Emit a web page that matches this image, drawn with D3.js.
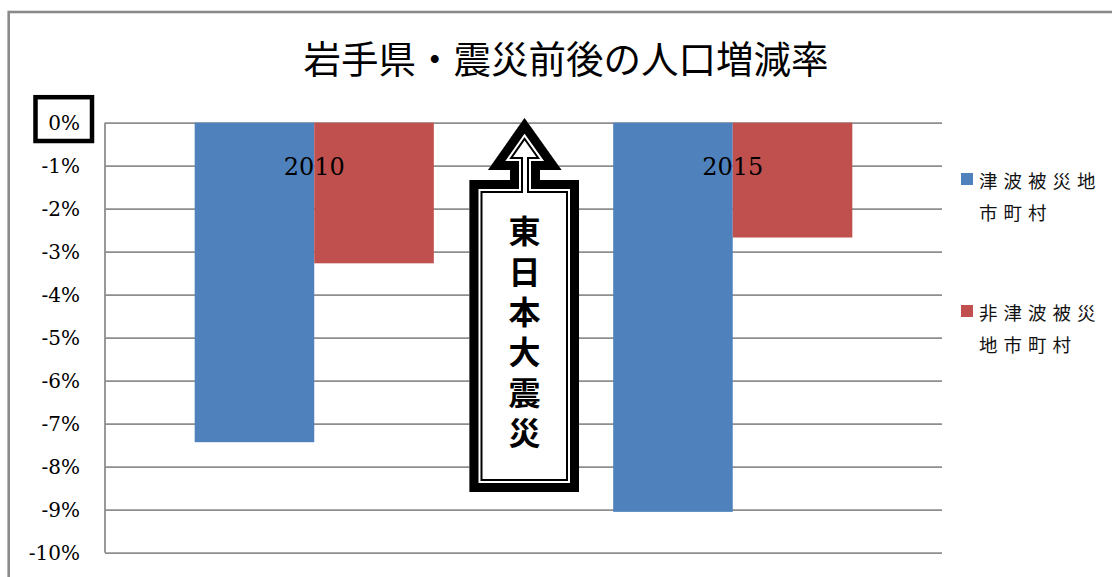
<!DOCTYPE html>
<html>
<head>
<meta charset="utf-8">
<script src="https://cdn.jsdelivr.net/npm/d3@7"></script>
<style>
  body { margin: 0; background: #fff; }
  svg { display: block; }
</style>
</head>
<body>
<div id="chart"></div>
<script>
// 岩手県・震災前後の人口増減率

var years = ["2010", "2015"];
var seriesNames = ["津波被災地市町村", "非津波被災地市町村"];
var legendLines = [["津波被災地", "市町村"], ["非津波被災", "地市町村"]];
var tsunami = [-7.43, -9.05];      // 津波被災地市町村 (%)
var nonTsunami = [-3.27, -2.67];   // 非津波被災地市町村 (%)
var yTicks = [0, -1, -2, -3, -4, -5, -6, -7, -8, -9, -10];
var colors = ["#4f81bd", "#c0504d"];
var quakeText = "東日本大震災";

var W = 1112, H = 577;
var pLeft = 105, pRight = 942, pTop = 122.7, pBottom = 552.7;

var svg = d3.select("#chart").append("svg").attr("width", W).attr("height", H);
svg.append("rect").attr("width", W).attr("height", H).attr("fill", "white");

// outer chart frame (runs off the picture at right and bottom)
svg.append("rect").attr("x", 8.7).attr("y", 12).attr("width", 1300).attr("height", 800)
  .attr("fill", "none").attr("stroke", "#8a8a8a").attr("stroke-width", 2.6);

svg.append("text").attr("x", 566).attr("y", 56).attr("text-anchor", "middle")
  .attr("dominant-baseline", "central")
  .style("font-family", "'Noto Sans CJK JP'").style("font-size", "37.5px").style("fill", "#000")
  .text("岩手県・震災前後の人口増減率");

var y = d3.scaleLinear().domain([-10, 0]).range([pBottom, pTop]);
var x0 = d3.scaleBand().domain(years).range([pLeft, pRight]).paddingInner(1.5 / 3.5).paddingOuter(0.75 / 3.5);
var x1 = d3.scaleBand().domain([0, 1]).range([0, x0.bandwidth()]);

// gridlines
var grid = svg.append("g").attr("transform", "translate(" + pLeft + ",0)")
  .call(d3.axisLeft(y).tickValues(yTicks).tickSize(-(pRight - pLeft)).tickFormat(""));
grid.select(".domain").remove();
grid.selectAll("line").attr("stroke", "#8e8e8e").attr("stroke-width", 1.8);
svg.append("line").attr("x1", pLeft).attr("x2", pLeft).attr("y1", pTop).attr("y2", pBottom)
  .attr("stroke", "#8e8e8e").attr("stroke-width", 1.8);

// y tick labels
var yAxis = svg.append("g").attr("transform", "translate(80,0)")
  .call(d3.axisLeft(y).tickValues(yTicks).tickSize(0).tickPadding(0).tickFormat(function(d){ return d + "%"; }));
yAxis.select(".domain").remove();
yAxis.selectAll("text").style("font-family", "'DejaVu Serif'").style("font-size", "20px").style("fill", "#000")
  .attr("dy", "0.36em");

// box round 0%
svg.append("rect").attr("x", 35.5).attr("y", 97.2).attr("width", 56.5).attr("height", 43.8)
  .attr("fill", "none").attr("stroke", "#000").attr("stroke-width", 4.5);

// bars
var rows = years.map(function(yr, i){ return {year: yr, vals: [tsunami[i], nonTsunami[i]]}; });
var groups = svg.selectAll("g.cat").data(rows).enter().append("g").attr("class", "cat")
  .attr("transform", function(d){ return "translate(" + x0(d.year) + ",0)"; });
groups.selectAll("rect").data(function(d){ return d.vals; }).enter().append("rect")
  .attr("x", function(d, i){ return x1(i); })
  .attr("y", y(0))
  .attr("width", x1.bandwidth())
  .attr("height", function(d){ return y(d) - y(0); })
  .attr("fill", function(d, i){ return colors[i]; });

// category labels under the 0 line
var xAxis = svg.append("g").attr("transform", "translate(0," + y(0) + ")")
  .call(d3.axisBottom(x0).tickSize(0).tickPadding(35));
xAxis.select(".domain").remove();
xAxis.selectAll("text").style("font-family", "'DejaVu Serif'").style("font-size", "24px").style("fill", "#000");

// 東日本大震災 arrow
var arrowPts = [[524.5,118],[561.5,170],[540,170],[540,180],[579,180],[579,492],[469.5,492],[469.5,180],[510,180],[510,170],[488,170]];
var arrowPath = "M" + arrowPts.map(function(p){ return p.join(","); }).join("L") + "Z";
svg.append("clipPath").attr("id", "arrowClip").append("path").attr("d", arrowPath);
var arrow = svg.append("g").attr("clip-path", "url(#arrowClip)");
arrow.append("path").attr("d", arrowPath).attr("fill", "white");
[[26, "#000"], [22, "#fff"], [18, "#000"]].forEach(function(s){
  arrow.append("path").attr("d", arrowPath).attr("fill", "none")
    .attr("stroke", s[1]).attr("stroke-width", s[0]).attr("stroke-linejoin", "miter").attr("stroke-miterlimit", 10);
});
svg.append("text").attr("x", 524.5).attr("y", 215)
  .style("writing-mode", "vertical-rl").style("letter-spacing", "8.4px")
  .style("font-family", "'Noto Sans CJK JP'").style("font-weight", "bold").style("font-size", "32px").style("fill", "#000")
  .text(quakeText);

// legend
var legTops = [173, 305];
var leg = svg.selectAll("g.leg").data(seriesNames).enter().append("g").attr("class", "leg");
leg.append("rect").attr("x", 961).attr("y", function(d, i){ return legTops[i]; })
  .attr("width", 12).attr("height", 12).attr("fill", function(d, i){ return colors[i]; });
leg.each(function(d, i){
  d3.select(this).selectAll("text").data(legendLines[i]).enter().append("text")
    .attr("x", 979).attr("y", function(t, j){ return legTops[i] + 7 + j * 31.5; })
    .attr("dominant-baseline", "central")
    .style("font-family", "'Noto Sans CJK JP'").style("font-size", "18.5px").style("letter-spacing", "6px").style("fill", "#111")
    .text(function(t){ return t; });
});
</script>
</body>
</html>
